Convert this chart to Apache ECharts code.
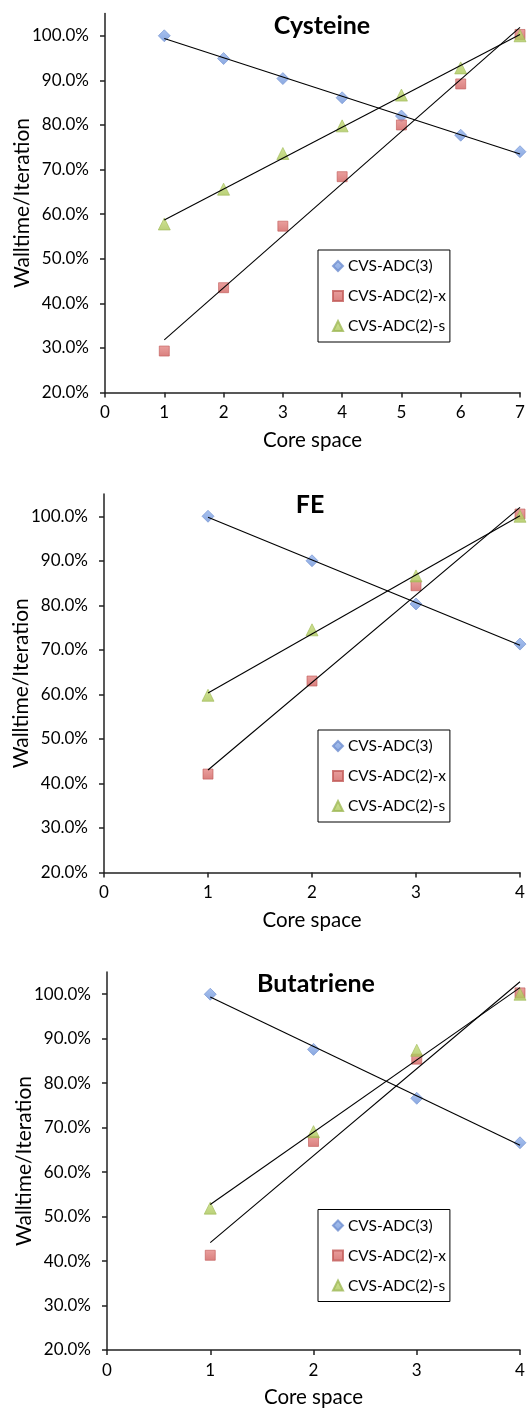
<!DOCTYPE html>
<html>
<head>
<meta charset="utf-8">
<script src="https://cdn.jsdelivr.net/npm/echarts@6/dist/echarts.min.js"></script>
<style>
html,body{margin:0;padding:0;background:#fff;}
#chart{width:527px;height:1410px;}
</style>
</head>
<body>
<div id="chart"></div>
<script>
// ---- data ----
const seriesNames = ['CVS-ADC(3)', 'CVS-ADC(2)-x', 'CVS-ADC(2)-s'];
const panelTitles = ['Cysteine', 'FE', 'Butatriene'];
const yTicks = [20, 30, 40, 50, 60, 70, 80, 90, 100];

const cysCore = [1, 2, 3, 4, 5, 6, 7];
const cysAdc3 = [100, 94.9, 90.4, 86.1, 82.0, 77.7, 74.0];
const cysAdc2x = [29.3, 43.5, 57.3, 68.4, 80.0, 89.2, 100.3];
const cysAdc2s = [57.8, 65.6, 73.6, 79.8, 86.7, 92.8, 100];

const feCore = [1, 2, 3, 4];
const feAdc3 = [100, 90.0, 80.3, 71.3];
const feAdc2x = [42.1, 63.0, 84.4, 100.5];
const feAdc2s = [59.8, 74.5, 86.6, 100];

const buCore = [1, 2, 3, 4];
const buAdc3 = [100, 87.6, 76.6, 66.6];
const buAdc2x = [41.3, 66.9, 85.4, 100.3];
const buAdc2s = [51.9, 69.1, 87.4, 100];

// ---- build ----
const panels = [
  {x: cysCore, ys: [cysAdc3, cysAdc2x, cysAdc2s], xMax: 7},
  {x: feCore, ys: [feAdc3, feAdc2x, feAdc2s], xMax: 4},
  {x: buCore, ys: [buAdc3, buAdc2x, buAdc2s], xMax: 4}
];
const grids = [
  {left: 105, top: 13.5, width: 415, height: 379, outerBoundsMode: 'none', containLabel: false},
  {left: 104, top: 494, width: 416, height: 378.5, outerBoundsMode: 'none', containLabel: false},
  {left: 107, top: 972, width: 413, height: 378, outerBoundsMode: 'none', containLabel: false}
];
const titlePos = [{x: 322, y: 13}, {x: 310, y: 492}, {x: 316, y: 971.5}];
const legendTop = [250, 730, 1209.5];

const symbols = ['diamond', 'rect', 'triangle'];
const sizes = [12, 10, 12];
const colors = [
  new echarts.graphic.LinearGradient(0, 0, 0, 1, [{offset: 0, color: '#93b3ec'}, {offset: 1, color: '#6d92d8'}]),
  new echarts.graphic.LinearGradient(0, 0, 0, 1, [{offset: 0, color: '#e58886'}, {offset: 1, color: '#d0605e'}]),
  new echarts.graphic.LinearGradient(0, 0, 0, 1, [{offset: 0, color: '#c6dc7a'}, {offset: 1, color: '#a9c557'}])
];
const borders = ['#6f8fcf', '#c25b59', '#9fb957'];

function fit(xs, ys) {
  const n = xs.length;
  let sx = 0, sy = 0, sxx = 0, sxy = 0;
  for (let i = 0; i < n; i++) { sx += xs[i]; sy += ys[i]; sxx += xs[i] * xs[i]; sxy += xs[i] * ys[i]; }
  const b = (n * sxy - sx * sy) / (n * sxx - sx * sx);
  const a = (sy - b * sx) / n;
  return [[xs[0], a + b * xs[0]], [xs[n - 1], a + b * xs[n - 1]]];
}

const FONT = 'Lato';
const axisColor = '#222';

const option = {
  animation: false,
  backgroundColor: '#fff',
  title: panelTitles.map((t, i) => ({
    text: t, left: titlePos[i].x, top: titlePos[i].y, textAlign: 'center', padding: 0,
    textStyle: {fontFamily: FONT, fontWeight: 'bold', fontSize: 25, color: '#000'}
  })),
  legend: legendTop.map(t => ({
    data: seriesNames, orient: 'vertical', left: 318, top: t,
    itemWidth: 10, itemHeight: 10, itemGap: 14, padding: [8, 4, 8, 14],
    borderColor: '#000', borderWidth: 1, selectedMode: false,
    textStyle: {fontFamily: FONT, fontSize: 15.5, color: '#000'}
  })),
  grid: grids,
  xAxis: panels.map((p, i) => ({
    type: 'value', gridIndex: i, min: 0, max: p.xMax, interval: 1,
    name: 'Core space', nameLocation: 'middle', nameGap: 37, nameMoveOverlap: false,
    nameTextStyle: {fontFamily: FONT, fontSize: 20.5, color: '#000'},
    axisLine: {show: true, onZero: false, lineStyle: {color: axisColor, width: 1.5}},
    axisTick: {show: true, length: 5, lineStyle: {color: axisColor, width: 1.5}},
    axisLabel: {fontFamily: FONT, fontSize: 17, color: '#000', margin: 12},
    splitLine: {show: false}
  })),
  yAxis: panels.map((p, i) => ({
    type: 'value', gridIndex: i, min: 20, max: 105,
    name: 'Walltime/Iteration', nameLocation: 'middle', nameGap: 72, nameMoveOverlap: false,
    nameTextStyle: {fontFamily: FONT, fontSize: 21, color: '#000'},
    axisLine: {show: true, lineStyle: {color: axisColor, width: 1.5}},
    axisTick: {show: true, length: 5, customValues: yTicks, lineStyle: {color: axisColor, width: 1.5}},
    axisLabel: {fontFamily: FONT, fontSize: 17, color: '#000', margin: 16, customValues: yTicks,
      formatter: v => v.toFixed(1) + '%'},
    splitLine: {show: false}
  })),
  series: []
};

panels.forEach((p, i) => {
  p.ys.forEach((ys, k) => {
    option.series.push({
      type: 'scatter', name: seriesNames[k], xAxisIndex: i, yAxisIndex: i,
      symbol: symbols[k], symbolSize: sizes[k], z: 2,
      itemStyle: {color: colors[k], borderColor: borders[k], borderWidth: 0.8},
      data: p.x.map((x, j) => [x, ys[j]])
    });
  });
  p.ys.forEach((ys, k) => {
    option.series.push({
      type: 'line', name: 'trend-' + i + '-' + k, xAxisIndex: i, yAxisIndex: i,
      showSymbol: false, symbol: 'none', silent: true, z: 3, clip: false,
      lineStyle: {color: '#000', width: 1.1},
      data: fit(p.x, ys)
    });
  });
});

const chart = echarts.init(document.getElementById('chart'), null, {renderer: 'canvas'});
chart.setOption(option);
</script>
</body>
</html>
